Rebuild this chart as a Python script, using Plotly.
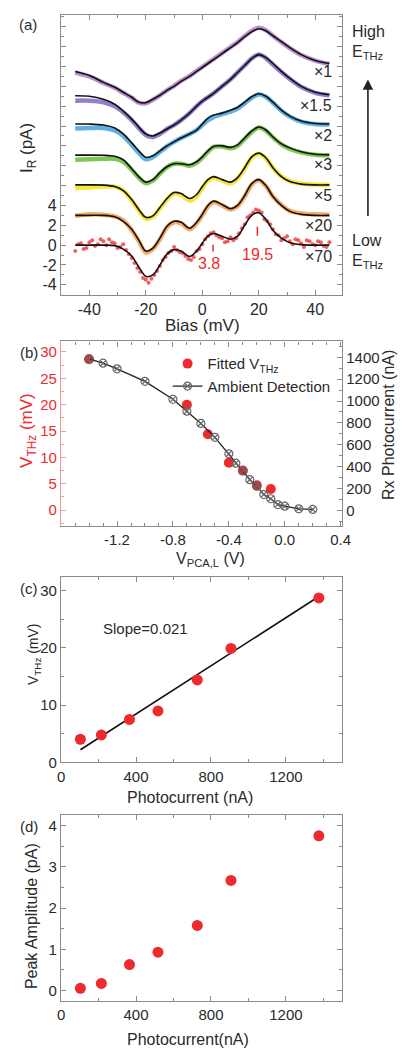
import plotly.graph_objects as go

# ---------------- Panel (a) data ----------------
bias = [-45, -40, -35, -31, -28, -25, -22.5, -20, -17.5, -15, -12.5, -10, -7.5, -4.5, -2, 0,
        2, 4, 7, 10, 12.5, 15, 17.5, 20, 22.5, 25, 28, 31, 35, 40, 45]

fit_x1 = [17.5, 17.1, 16.4, 15.9, 15.4, 14.9, 14.4, 14.35, 14.7, 15.1, 15.6, 16.0, 16.5, 17.0, 17.5, 17.9,
          18.3, 18.7, 19.3, 19.9, 20.4, 21.0, 21.5, 21.8, 21.6, 21.1, 20.5, 19.9, 19.2, 18.6, 18.3]
fit_x15 = [15.05, 15.0, 14.7, 14.2, 13.5, 12.7, 11.9, 11.2, 11.0, 11.3, 11.7, 12.1, 12.6, 13.3, 14.0, 14.5,
           14.9, 15.3, 16.0, 16.7, 17.4, 18.1, 18.8, 19.2, 18.9, 18.3, 17.5, 16.8, 16.0, 15.4, 15.15]
fit_x2 = [12.2, 12.2, 12.1, 11.8, 11.2, 10.3, 9.5, 8.85, 9.0, 9.5, 10.0, 10.4, 10.8, 11.2, 11.6, 12.2,
          12.8, 13.1, 13.3, 13.6, 13.9, 14.4, 14.95, 15.25, 15.0, 14.4, 13.6, 13.0, 12.5, 12.25, 12.2]
fit_x3 = [9.07, 9.07, 9.05, 8.95, 8.6, 7.7, 6.9, 6.35, 6.6, 7.3, 7.9, 8.2, 8.2, 8.1, 8.4, 8.9,
          9.5, 9.95, 10.0, 9.85, 10.1, 10.8, 11.5, 11.9, 11.6, 10.9, 10.2, 9.8, 9.4, 9.15, 9.1]
fit_x5 = [6.07, 6.07, 6.05, 5.9, 5.5, 4.6, 3.6, 2.8, 2.95, 3.8, 4.7, 5.3, 5.2, 4.7, 5.1, 5.9,
          6.6, 6.9, 6.6, 6.35, 6.8, 7.8, 8.9, 9.27, 8.8, 7.8, 6.9, 6.4, 6.15, 6.07, 6.07]
fit_x20 = [3.0, 3.0, 3.0, 2.85, 2.4, 1.6, 0.5, -0.6, -0.3, 0.7, 1.9, 2.4, 2.3, 1.7, 2.3, 3.1,
           4.0, 4.43, 4.1, 3.67, 4.0, 5.0, 6.2, 6.6, 6.0, 4.9, 4.0, 3.4, 3.1, 3.0, 3.0]
fit_x70 = [0, 0, 0, -0.05, -0.4, -1.1, -2.2, -3.15, -3.0, -2.0, -0.9, -0.45, -0.6, -1.15, -0.6, 0.2,
           0.9, 1.17, 0.9, 0.6, 0.9, 2.0, 3.0, 3.27, 2.6, 1.5, 0.7, 0.25, 0.05, 0, 0]

data_x1 = [17.4, 17.0, 16.35, 15.85, 15.35, 14.85, 14.35, 14.3, 14.65, 15.1, 15.6, 16.05, 16.55, 17.05, 17.55, 17.95,
           18.35, 18.75, 19.35, 19.95, 20.45, 21.05, 21.6, 21.9, 21.65, 21.1, 20.45, 19.85, 19.15, 18.6, 18.25]
data_x15 = [14.55, 14.55, 14.4, 14.0, 13.4, 12.6, 11.8, 11.1, 10.9, 11.2, 11.7, 12.1, 12.6, 13.3, 14.0, 14.5,
            14.9, 15.3, 16.0, 16.7, 17.4, 18.1, 18.8, 19.2, 18.85, 18.2, 17.45, 16.75, 15.95, 15.35, 15.1]
data_x2 = [11.75, 11.8, 11.8, 11.55, 11.0, 10.1, 9.3, 8.65, 8.85, 9.4, 9.95, 10.4, 10.8, 11.2, 11.6, 12.1,
           12.6, 12.9, 13.2, 13.45, 13.75, 14.3, 14.85, 15.2, 14.95, 14.35, 13.55, 12.95, 12.45, 12.2, 12.15]
data_x3 = [8.6, 8.65, 8.7, 8.7, 8.4, 7.6, 6.8, 6.25, 6.5, 7.2, 7.85, 8.2, 8.2, 8.0, 8.3, 8.8,
           9.4, 9.9, 9.95, 9.75, 10.0, 10.7, 11.4, 11.85, 11.55, 10.85, 10.15, 9.7, 9.35, 9.1, 9.05]
data_x5 = [5.75, 5.8, 5.9, 5.9, 5.5, 4.5, 3.5, 2.65, 2.85, 3.7, 4.6, 5.2, 5.05, 4.5, 4.9, 5.75,
           6.5, 6.8, 6.5, 6.2, 6.7, 7.7, 8.8, 9.2, 8.75, 7.8, 6.95, 6.45, 6.2, 6.1, 6.05]
data_x20 = [2.95, 3.1, 3.05, 2.9, 2.5, 1.5, 0.4, -0.75, -0.4, 0.6, 1.8, 2.3, 2.2, 1.6, 2.2, 3.0,
            3.9, 4.35, 4.0, 3.6, 3.95, 4.9, 6.1, 6.55, 5.95, 4.9, 4.05, 3.45, 3.2, 3.1, 3.05]

red_bias_a = [-45, -43, -41, -39, -37, -35, -33, -31, -29, -27, -25, -23, -21, -19, -17, -15, -13, -11, -9, -7,
              -5, -3, -1, 1, 3, 5, 7, 9, 11, 13, 15, 17, 19, 21, 23, 25, 27, 29, 31, 33, 35, 37, 39, 41, 43, 45]
red_data_a = [-0.6, 0.2, -0.3, 0.5, 0.1, 0.4, 0.6, 0.2, -0.2, -0.5, -1.3, -2.3, -3.3, -3.8, -3.0, -2.1, -1.2, -0.6, -0.5, -0.8,
              -1.4, -1.2, -0.4, 0.6, 1.2, 1.0, 0.7, 0.4, 0.5, 1.2, 2.1, 3.0, 3.6, 3.3, 2.4, 1.6, 1.0, 0.7, 0.4, 0.6,
              0.2, 0.5, 0.1, 0.4, -0.1, 0.3]
red_bias_b = [-44, -42, -40, -38, -36, -34, -32, -30, -28, -26, -24, -22, -20, -18, -16, -14, -12, -10, -8, -6,
              -4, -2, 0, 2, 4, 6, 8, 10, 12, 14, 16, 18, 20, 22, 24, 26, 28, 30, 32, 34, 36, 38, 40, 42, 44]
red_data_b = [0.1, -0.4, 0.3, -0.1, 0.6, 0.0, 0.3, -0.3, 0.1, -0.9, -1.8, -2.7, -3.5, -3.4, -2.6, -1.5, -0.8, -0.2, -0.7, -1.1,
              -1.5, -0.6, 0.1, 0.9, 1.3, 0.8, 0.3, 0.8, 0.7, 1.7, 2.8, 3.3, 3.5, 2.6, 2.1, 1.1, 0.5, 0.9, 0.1, 0.5,
              -0.2, 0.4, 0.0, 0.3, -0.2]

scale_labels = ["×1", "×1.5", "×2", "×3", "×5", "×20", "×70"]
peak_pos = [3.8, 19.5]
peak_text = ["3.8", "19.5"]

# ---------------- Panel (b) data ----------------
vpca_amb = [-1.4, -1.3, -1.2, -1.0, -0.8, -0.7, -0.6, -0.5, -0.4, -0.35, -0.3, -0.25, -0.2, -0.15, -0.1,
            -0.05, 0.0, 0.1, 0.2]
amb_current = [1385, 1346, 1294, 1180, 1016, 907, 795, 668, 517, 432, 363, 281, 222, 145, 107, 54, 39, 15, 9]
vpca_fit = [-1.4, -0.7, -0.55, -0.4, -0.3, -0.2, -0.1]
vthz_fit = [28.6, 20.0, 14.4, 9.0, 7.5, 4.7, 4.0]

# ---------------- Panel (c)/(d) data ----------------
photocurrent = [103, 215, 365, 517, 727, 907, 1376]
vthz = [4.05, 4.8, 7.5, 9.0, 14.4, 19.9, 28.7]
peak_amp = [0.055, 0.175, 0.63, 0.93, 1.58, 2.67, 3.75]
slope = 0.021
intercept = 0.05
fit_range = [103, 1376]

# ---------------- styling ----------------
FONT = "Liberation Sans, Arial, sans-serif"
AX = "#8a8a8a"
TXT = "#2a2a2a"
RED = "#ee2a2e"
colors_a = ["#b383cc", "#8a70c8", "#4fa8e0", "#72c045", "#f3e52a", "#f6a257", RED]

W, H = 405, 1055


def py(p):
    return 1 - p / H


def px(p):
    return p / W


fig = go.Figure()

# panel (a) colored data
for d, c in zip([data_x1, data_x15, data_x2, data_x3, data_x5, data_x20], colors_a[:6]):
    fig.add_trace(go.Scatter(x=bias, y=d, mode="lines", xaxis="x", yaxis="y", showlegend=False,
                             line=dict(color=c, width=4.5, shape="spline", smoothing=0.9), opacity=0.9))
fig.add_trace(go.Scatter(x=red_bias_a + red_bias_b, y=red_data_a + red_data_b, mode="markers", xaxis="x", yaxis="y",
                         showlegend=False, marker=dict(color=RED, size=4, opacity=0.75)))
for f in [fit_x1, fit_x15, fit_x2, fit_x3, fit_x5, fit_x20, fit_x70]:
    fig.add_trace(go.Scatter(x=bias, y=f, mode="lines", xaxis="x", yaxis="y", showlegend=False,
                             line=dict(color="#111111", width=1.6, shape="spline", smoothing=0.9)))

# panel (b)
fig.add_trace(go.Scatter(x=vpca_fit, y=vthz_fit, mode="markers", xaxis="x2", yaxis="y2",
                         name="Fitted V<sub>THz</sub>", marker=dict(color=RED, size=10)))
fig.add_trace(go.Scatter(x=vpca_amb, y=amb_current, mode="lines+markers", xaxis="x2", yaxis="y3",
                         name="Ambient Detection", line=dict(color="#222222", width=1.3),
                         marker=dict(symbol="circle-x-open", size=8, color="#666666", line=dict(width=1.2))))

# panel (c)
fig.add_trace(go.Scatter(x=fit_range, y=[slope * v + intercept for v in fit_range], mode="lines",
                         xaxis="x3", yaxis="y4", showlegend=False, line=dict(color="#111111", width=1.6)))
fig.add_trace(go.Scatter(x=photocurrent, y=vthz, mode="markers", xaxis="x3", yaxis="y4", showlegend=False,
                         marker=dict(color=RED, size=11)))
# panel (d)
fig.add_trace(go.Scatter(x=photocurrent, y=peak_amp, mode="markers", xaxis="x4", yaxis="y5", showlegend=False,
                         marker=dict(color=RED, size=11)))


def axis(**kw):
    base = dict(showline=True, linecolor=AX, linewidth=1.3, ticks="inside", ticklen=5, tickwidth=1.2,
                tickcolor=AX, mirror="ticks", showgrid=False, zeroline=False,
                tickfont=dict(family=FONT, size=15, color=TXT),
                minor=dict(ticks="inside", ticklen=3, tickcolor=AX, tickwidth=1.1, showgrid=False))
    base.update(kw)
    return base


xdom = [px(59), px(349.3)]
dom_a = [py(297), py(15)]
dom_b = [py(530), py(344)]
dom_c = [py(768.3), py(581.7)]
dom_d = [py(1009), py(821)]

ya_vals = list(range(-4, 24, 2))
ya_text = [str(v) if v <= 4 else "" for v in ya_vals]

fig.update_layout(
    width=W, height=H, margin=dict(l=0, r=0, t=0, b=0),
    paper_bgcolor="white", plot_bgcolor="white",
    font=dict(family=FONT, color=TXT),
    xaxis=axis(domain=xdom, anchor="y", range=[-50, 49.5], tickvals=[-40, -20, 0, 20, 40],
               ticktext=["-40", "-20", "0", "20", "40"], tickfont=dict(family=FONT, size=16, color=TXT),
               minor=dict(ticks="inside", ticklen=3, tickcolor=AX, dtick=10, tick0=0)),
    yaxis=axis(domain=dom_a, anchor="x", range=[-5, 23.2], tickvals=ya_vals, ticktext=ya_text,
               tickfont=dict(family=FONT, size=16, color=TXT),
               minor=dict(ticks="inside", ticklen=3, tickcolor=AX, dtick=1, tick0=0)),
    xaxis2=axis(domain=xdom, anchor="y2", range=[-1.6, 0.41], tickvals=[-1.2, -0.8, -0.4, 0.0, 0.4],
                ticktext=["-1.2", "-0.8", "-0.4", "0.0", "0.4"],
                minor=dict(ticks="inside", ticklen=3, tickcolor=AX, dtick=0.1, tick0=0)),
    yaxis2=axis(domain=dom_b, anchor="x2", range=[-3, 32], tickvals=[0, 5, 10, 15, 20, 25, 30],
                linecolor="#f49a9a", tickcolor="#f49a9a", mirror=False,
                tickfont=dict(family=FONT, size=15, color=RED),
                minor=dict(ticks="inside", ticklen=3, tickcolor="#f49a9a", dtick=2.5, tick0=0)),
    yaxis3=axis(overlaying="y2", side="right", anchor="x2", range=[-142, 1545],
                tickvals=[0, 200, 400, 600, 800, 1000, 1200, 1400], mirror=False,
                minor=dict(ticks="inside", ticklen=3, tickcolor=AX, dtick=100, tick0=0)),
    xaxis3=axis(domain=xdom, anchor="y4", range=[0, 1500], tickvals=[0, 400, 800, 1200],
                minor=dict(ticks="inside", ticklen=3, tickcolor=AX, dtick=200, tick0=0)),
    yaxis4=axis(domain=dom_c, anchor="x3", range=[0, 32.3], tickvals=[0, 10, 20, 30],
                minor=dict(ticks="inside", ticklen=3, tickcolor=AX, dtick=5, tick0=0)),
    xaxis4=axis(domain=xdom, anchor="y5", range=[0, 1500], tickvals=[0, 400, 800, 1200],
                minor=dict(ticks="inside", ticklen=3, tickcolor=AX, dtick=200, tick0=0)),
    yaxis5=axis(domain=dom_d, anchor="x4", range=[-0.26, 4.26], tickvals=[0, 1, 2, 3, 4],
                minor=dict(ticks="inside", ticklen=3, tickcolor=AX, dtick=0.5, tick0=0)),
    legend=dict(x=px(169), y=py(350), xanchor="left", yanchor="top", bgcolor="rgba(0,0,0,0)",
                font=dict(family=FONT, size=15, color=TXT), itemwidth=30, tracegroupgap=0),
)

ann = []


def A(text, x, y, size=15, color=TXT, xanchor="center", yanchor="middle", angle=0, xref="paper", yref="paper"):
    ann.append(dict(text=text, x=x, y=y, xref=xref, yref=yref, showarrow=False, xanchor=xanchor,
                    yanchor=yanchor, textangle=angle, font=dict(family=FONT, size=size, color=color)))


# panel labels
A("(a)", px(25), py(25))
A("(b)", px(26), py(355))
A("(c)", px(26), py(593))
A("(d)", px(26), py(833))

# panel (a) texts
A("I<sub>R</sub> (pA)", px(25), py(149), size=17, angle=-90)
A("Bias (mV)", px(205), py(328), size=17)
A("High", px(357), py(32), size=16, xanchor="left")
A("E<sub>THz</sub>", px(357), py(53), size=16, xanchor="left")
A("Low", px(357), py(242), size=16, xanchor="left")
A("E<sub>THz</sub>", px(357), py(263), size=16, xanchor="left")
for lab, yy in zip(scale_labels, [72, 106, 137, 166, 197, 227, 258]):
    A(lab, px(341), py(yy), size=16, xanchor="right")
for pos, t, ty in zip(peak_pos, peak_text, [-1.85, -0.95]):
    A(t, pos - 1.3 if t == "3.8" else pos, ty, size=16, color=RED, xref="x", yref="y")

ann.append(dict(x=px(376), y=py(80), xref="paper", yref="paper", ax=0, ay=138, axref="pixel", ayref="pixel",
                showarrow=True, arrowhead=2, arrowsize=1.3, arrowwidth=1.6, arrowcolor="#222222", text=""))

# panel (b) texts
A("V<sub>PCA,L</sub> (V)", px(213), py(564), size=16)
A("V<sub>THz</sub> (mV)", px(25), py(434), size=17, color=RED, angle=-90)
A("Rx Photocurrent (nA)", px(398), py(428), size=16, angle=-90)

# panel (c) texts
A("V<sub>THz</sub> (mV)", px(31), py(659), size=14, angle=-90)
A("Photocurrent (nA)", px(192), py(804), size=16)
A("Slope=0.021", 448, 23.4, size=15, xref="x3", yref="y4")

# panel (d) texts
A("Peak Amplitude (pA)", px(28), py(923), size=16, angle=-90)
A("Photocurrent(nA)", px(190), py(1047), size=16)

fig.update_layout(annotations=ann)

shapes = []
for pos, (y0, y1) in zip(peak_pos, [(-0.65, 0.05), (0.95, 1.85)]):
    shapes.append(dict(type="line", xref="x", yref="y", x0=pos, x1=pos, y0=y0, y1=y1,
                       line=dict(color=RED, width=1.5)))
fig.update_layout(shapes=shapes)

fig.write_html("out.html", config={"displayModeBar": False},
               post_script="document.body.style.margin='0px';document.body.style.overflow='hidden';")
